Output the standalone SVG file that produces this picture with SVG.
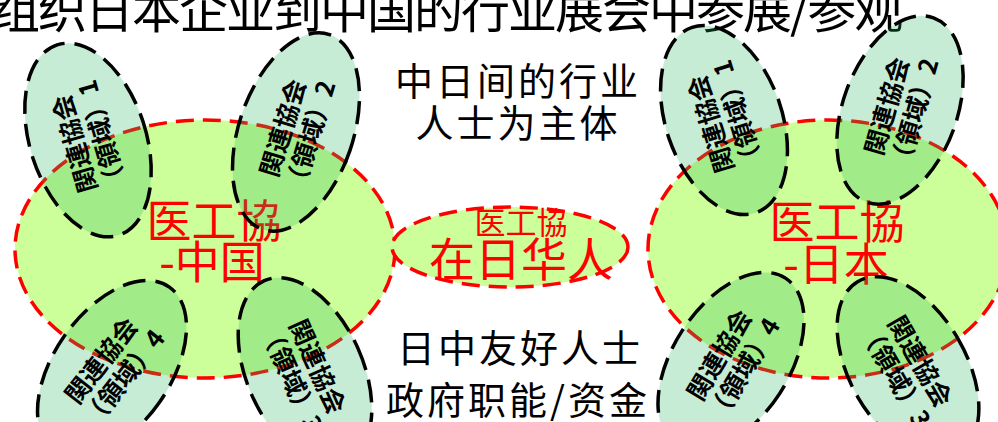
<svg xmlns="http://www.w3.org/2000/svg" width="998" height="422" viewBox="0 0 998 422">
<style>
.big{fill:#ccff99;stroke:#ff0000;stroke-width:3.5;stroke-dasharray:18 9}
.small{fill:#1fb25a;fill-opacity:0.25;stroke:#000;stroke-width:3.5;stroke-dasharray:23 10}
.blk{font-family:"Noto Sans CJK SC","Noto Sans CJK JP",sans-serif;fill:#000}
.mid{font-size:38px;letter-spacing:3px;text-anchor:middle}
.red{font-family:"Noto Sans CJK SC","Noto Sans CJK JP",sans-serif;fill:#ff0000;text-anchor:middle}
.lbl{font-family:"Noto Sans CJK JP","Noto Sans CJK SC",sans-serif;font-weight:bold;font-size:25px;text-anchor:middle;fill:#000}
</style>
<rect width="998" height="422" fill="#ffffff"/>
<g id="title">
<text class="blk" x="-9" y="28" font-size="49" letter-spacing="-2">组织日本企业到中国的行业展会中参展/参观</text>
</g>
<g id="center-notes">
<text class="blk mid" x="518" y="95">中日间的行业</text>
<text class="blk mid" x="518" y="137">人士为主体</text>
<text class="blk mid" x="520" y="362">日中友好人士</text>
<text class="blk mid" x="518" y="414">政府职能/资金</text>
</g>
<g id="yigongxie-china">
<ellipse class="big" cx="205" cy="249" rx="190" ry="129"/>
<text class="red" x="214" y="238" font-size="45">医工協</text>
<text class="red" x="212" y="279" font-size="45">-中国</text>
</g>
<g id="yigongxie-japan">
<ellipse class="big" cx="828" cy="249" rx="180" ry="129"/>
<text class="red" x="837" y="239" font-size="45">医工協</text>
<text class="red" x="836" y="281" font-size="45">-日本</text>
</g>
<g id="zairi-huaren">
<ellipse class="big" cx="510" cy="247" rx="118" ry="40"/>
<text class="red" x="521" y="234" font-size="31">医工協</text>
<text class="red" x="521" y="276" font-size="46">在日华人</text>
</g>
<g id="cn-assoc1" transform="translate(88,140)">
<ellipse class="small" rx="58" ry="100" transform="rotate(-18)"/>
<text class="lbl" transform="rotate(-106)"><tspan x="0" y="-4.5">関連協会</tspan><tspan x="0" y="24">（領域）1</tspan></text>
</g>
<g id="cn-assoc2" transform="translate(296,132)">
<ellipse class="small" rx="57" ry="103" transform="rotate(19)"/>
<text class="lbl" transform="rotate(-73)"><tspan x="0" y="-4.5">関連協会</tspan><tspan x="0" y="24">（領域）2</tspan></text>
</g>
<g id="cn-assoc4" transform="translate(112,369)">
<ellipse class="small" rx="58" ry="100" transform="rotate(35)"/>
<text class="lbl" transform="rotate(-52)"><tspan x="0" y="-4.5">関連協会</tspan><tspan x="0" y="24">（領域）4</tspan></text>
</g>
<g id="cn-assoc3" transform="translate(305,372)">
<ellipse class="small" rx="58" ry="100" transform="rotate(-24)"/>
<text class="lbl" transform="rotate(66)"><tspan x="0" y="-4.5">関連協会</tspan><tspan x="0" y="24">（領域）3</tspan></text>
</g>
<g id="jp-assoc1" transform="translate(724,120)">
<ellipse class="small" rx="58" ry="98" transform="rotate(-19)"/>
<text class="lbl" transform="rotate(-107)"><tspan x="0" y="-4.5">関連協会</tspan><tspan x="0" y="24">（領域）1</tspan></text>
</g>
<g id="jp-assoc2" transform="translate(900,110)">
<ellipse class="small" rx="57" ry="98" transform="rotate(20)"/>
<text class="lbl" transform="rotate(-74)"><tspan x="0" y="-4.5">関連協会</tspan><tspan x="0" y="24">（領域）2</tspan></text>
</g>
<g id="jp-assoc4" transform="translate(731,362)">
<ellipse class="small" rx="58" ry="100" transform="rotate(33)"/>
<text class="lbl" transform="rotate(-59)"><tspan x="0" y="-4.5">関連協会</tspan><tspan x="0" y="24">（領域）4</tspan></text>
</g>
<g id="jp-assoc3" transform="translate(908,368)">
<ellipse class="small" rx="58" ry="100" transform="rotate(-30)"/>
<text class="lbl" transform="rotate(60)"><tspan x="0" y="-4.5">関連協会</tspan><tspan x="0" y="24">（領域）3</tspan></text>
</g>
</svg>
